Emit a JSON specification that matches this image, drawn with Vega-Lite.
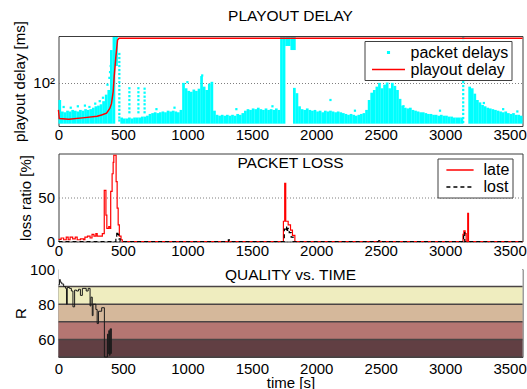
{
  "$schema": "https://vega.github.io/schema/vega-lite/v6.json",
  "padding": {"left": 10.5, "top": 8, "right": 5, "bottom": 5},
  "background": "#ffffff",
  "bounds": "flush",
  "spacing": 27.5,
  "config": {
    "font": "Liberation Sans",
    "view": {"stroke": "#3c3c3c", "strokeWidth": 1},
    "axis": {
      "domain": false, "ticks": false, "grid": false,
      "labelFont": "Liberation Sans", "labelFontSize": 15, "labelColor": "#000000",
      "titleFont": "Liberation Sans", "titleFontSize": 15, "titleFontWeight": "normal", "titleColor": "#000000"
    },
    "title": {"font": "Liberation Sans", "fontSize": 15.5, "fontWeight": "normal", "color": "#000000", "anchor": "middle", "baseline": "alphabetic"}
  },
  "datasets": {
    "cloud": [
      {"t":10,"lo":32,"hi":62},{"t":30,"lo":32,"hi":45},{"t":50,"lo":32,"hi":44},{"t":70,"lo":32,"hi":46},{"t":90,"lo":32,"hi":45},
      {"t":110,"lo":32,"hi":47},{"t":130,"lo":32,"hi":46},{"t":150,"lo":32,"hi":45},{"t":170,"lo":32,"hi":47},{"t":190,"lo":32,"hi":46},
      {"t":210,"lo":32,"hi":48},{"t":230,"lo":32,"hi":47},{"t":250,"lo":32,"hi":48},{"t":270,"lo":32,"hi":50},{"t":290,"lo":32,"hi":52},
      {"t":310,"lo":32,"hi":53},{"t":330,"lo":32,"hi":55},{"t":350,"lo":32,"hi":60},{"t":370,"lo":32,"hi":72},{"t":390,"lo":32,"hi":82},
      {"t":410,"lo":32,"hi":250},{"t":430,"lo":32,"hi":360},{"t":450,"lo":160,"hi":360},
      {"t":490,"lo":32,"hi":38},{"t":510,"lo":32,"hi":37},{"t":530,"lo":32,"hi":37},{"t":550,"lo":32,"hi":38},{"t":570,"lo":32,"hi":37},
      {"t":590,"lo":32,"hi":38},{"t":610,"lo":32,"hi":38},{"t":630,"lo":32,"hi":38},{"t":650,"lo":32,"hi":39},{"t":670,"lo":32,"hi":39},
      {"t":690,"lo":32,"hi":40},{"t":710,"lo":32,"hi":42},{"t":730,"lo":32,"hi":43},{"t":750,"lo":32,"hi":44},{"t":770,"lo":32,"hi":43},
      {"t":790,"lo":32,"hi":44},{"t":810,"lo":32,"hi":45},{"t":830,"lo":32,"hi":44},{"t":850,"lo":32,"hi":46},{"t":870,"lo":32,"hi":45},
      {"t":890,"lo":32,"hi":46},{"t":910,"lo":32,"hi":45},{"t":930,"lo":32,"hi":44},{"t":950,"lo":32,"hi":47},
      {"t":970,"lo":32,"hi":100},{"t":990,"lo":32,"hi":86},{"t":1010,"lo":32,"hi":80},{"t":1030,"lo":32,"hi":78},{"t":1050,"lo":32,"hi":83},
      {"t":1070,"lo":32,"hi":80},{"t":1090,"lo":32,"hi":85},{"t":1110,"lo":32,"hi":121},{"t":1130,"lo":32,"hi":90},{"t":1150,"lo":32,"hi":82},
      {"t":1170,"lo":32,"hi":98},{"t":1190,"lo":32,"hi":103},
      {"t":1210,"lo":32,"hi":46},{"t":1230,"lo":32,"hi":41},{"t":1250,"lo":32,"hi":40},{"t":1270,"lo":32,"hi":41},{"t":1290,"lo":32,"hi":40},
      {"t":1310,"lo":32,"hi":41},{"t":1330,"lo":32,"hi":40},{"t":1350,"lo":32,"hi":41},{"t":1370,"lo":32,"hi":40},{"t":1390,"lo":32,"hi":42},
      {"t":1410,"lo":32,"hi":41},{"t":1430,"lo":32,"hi":43},{"t":1450,"lo":32,"hi":46},{"t":1470,"lo":32,"hi":48},{"t":1490,"lo":32,"hi":47},
      {"t":1510,"lo":32,"hi":49},{"t":1530,"lo":32,"hi":48},{"t":1550,"lo":32,"hi":50},{"t":1570,"lo":32,"hi":48},{"t":1590,"lo":32,"hi":47},
      {"t":1610,"lo":32,"hi":49},{"t":1630,"lo":32,"hi":47},{"t":1650,"lo":32,"hi":48},{"t":1670,"lo":32,"hi":47},{"t":1690,"lo":32,"hi":49},
      {"t":1710,"lo":32,"hi":47},
      {"t":1730,"lo":32,"hi":360},{"t":1750,"lo":32,"hi":360},{"t":1770,"lo":280,"hi":360},{"t":1790,"lo":280,"hi":360},
      {"t":1810,"lo":250,"hi":360},{"t":1830,"lo":250,"hi":360},{"t":1830,"lo":32,"hi":87},{"t":1850,"lo":32,"hi":75},
      {"t":1870,"lo":32,"hi":52},{"t":1890,"lo":32,"hi":48},{"t":1910,"lo":32,"hi":47},{"t":1930,"lo":32,"hi":49},{"t":1950,"lo":32,"hi":47},
      {"t":1970,"lo":32,"hi":46},{"t":1990,"lo":32,"hi":47},{"t":2010,"lo":32,"hi":45},{"t":2030,"lo":32,"hi":46},{"t":2050,"lo":32,"hi":44},
      {"t":2070,"lo":32,"hi":46},{"t":2090,"lo":32,"hi":45},{"t":2110,"lo":32,"hi":46},{"t":2130,"lo":32,"hi":45},{"t":2150,"lo":32,"hi":44},
      {"t":2170,"lo":32,"hi":45},{"t":2190,"lo":32,"hi":44},{"t":2210,"lo":32,"hi":43},{"t":2230,"lo":32,"hi":42},{"t":2250,"lo":32,"hi":41},
      {"t":2270,"lo":32,"hi":42},{"t":2290,"lo":32,"hi":41},{"t":2310,"lo":32,"hi":40},{"t":2330,"lo":32,"hi":41},{"t":2350,"lo":32,"hi":42},
      {"t":2370,"lo":32,"hi":43},{"t":2390,"lo":32,"hi":47},
      {"t":2410,"lo":32,"hi":62},{"t":2430,"lo":32,"hi":76},{"t":2450,"lo":32,"hi":82},{"t":2470,"lo":32,"hi":90},{"t":2490,"lo":32,"hi":100},
      {"t":2510,"lo":32,"hi":86},{"t":2530,"lo":32,"hi":95},{"t":2550,"lo":32,"hi":101},{"t":2570,"lo":32,"hi":86},{"t":2590,"lo":32,"hi":100},
      {"t":2610,"lo":32,"hi":92},{"t":2630,"lo":32,"hi":82},{"t":2650,"lo":32,"hi":64},{"t":2670,"lo":32,"hi":53},{"t":2690,"lo":32,"hi":50},
      {"t":2710,"lo":32,"hi":49},{"t":2730,"lo":32,"hi":50},{"t":2750,"lo":32,"hi":47},{"t":2770,"lo":32,"hi":46},{"t":2790,"lo":32,"hi":45},
      {"t":2810,"lo":32,"hi":44},{"t":2830,"lo":32,"hi":44},{"t":2850,"lo":32,"hi":43},{"t":2870,"lo":32,"hi":42},{"t":2890,"lo":32,"hi":42},
      {"t":2910,"lo":32,"hi":41},{"t":2930,"lo":32,"hi":41},{"t":2950,"lo":32,"hi":40},{"t":2970,"lo":32,"hi":41},{"t":2990,"lo":32,"hi":40},
      {"t":3010,"lo":32,"hi":40},{"t":3030,"lo":32,"hi":39},{"t":3050,"lo":32,"hi":39},{"t":3070,"lo":32,"hi":38},{"t":3090,"lo":32,"hi":38},
      {"t":3110,"lo":32,"hi":38},{"t":3130,"lo":32,"hi":38},
      {"t":3190,"lo":32,"hi":90},{"t":3210,"lo":32,"hi":86},{"t":3230,"lo":32,"hi":74},{"t":3250,"lo":32,"hi":62},{"t":3270,"lo":32,"hi":58},
      {"t":3290,"lo":32,"hi":54},{"t":3310,"lo":32,"hi":52},{"t":3330,"lo":32,"hi":50},{"t":3350,"lo":32,"hi":49},{"t":3370,"lo":32,"hi":48},
      {"t":3390,"lo":32,"hi":47},{"t":3410,"lo":32,"hi":46},{"t":3430,"lo":32,"hi":45},{"t":3450,"lo":32,"hi":44},{"t":3470,"lo":32,"hi":45},
      {"t":3490,"lo":32,"hi":43},{"t":3510,"lo":32,"hi":42},{"t":3530,"lo":32,"hi":43},{"t":3550,"lo":32,"hi":41},{"t":3570,"lo":32,"hi":41},
      {"t":3590,"lo":32,"hi":40}
    ],
    "dots": [
      {"t":40,"v":51},{"t":95,"v":50},{"t":150,"v":52},{"t":205,"v":53},{"t":240,"v":51},{"t":285,"v":56},{"t":320,"v":60},{"t":345,"v":66},
      {"t":380,"v":95},{"t":395,"v":115},{"t":400,"v":135},{"t":405,"v":160},
      {"t":472,"v":224},{"t":472,"v":200},{"t":472,"v":179},{"t":472,"v":160},{"t":472,"v":143},{"t":472,"v":128},{"t":472,"v":114},
      {"t":472,"v":102},{"t":472,"v":91.5},{"t":472,"v":82},{"t":472,"v":73},{"t":472,"v":65},{"t":472,"v":58},{"t":472,"v":52},
      {"t":472,"v":47},{"t":472,"v":42},{"t":472,"v":38},{"t":472,"v":35},
      {"t":550,"v":86},{"t":550,"v":77},{"t":550,"v":69},{"t":550,"v":62},{"t":550,"v":55},{"t":550,"v":49},{"t":550,"v":44},
      {"t":620,"v":86},{"t":620,"v":77},{"t":620,"v":69},{"t":620,"v":62},{"t":620,"v":55},{"t":620,"v":49},{"t":620,"v":44},
      {"t":668,"v":85},{"t":668,"v":76},{"t":668,"v":68},{"t":668,"v":61},{"t":668,"v":55},{"t":668,"v":49},{"t":668,"v":44},
      {"t":760,"v":48},{"t":900,"v":50},{"t":1000,"v":102},{"t":1115,"v":123},{"t":1380,"v":48},{"t":1660,"v":52},
      {"t":2110,"v":62},{"t":2300,"v":46},{"t":2677,"v":52},{"t":2960,"v":46},{"t":3300,"v":57},{"t":3450,"v":48},{"t":3560,"v":45},
      {"t":3140,"v":349},{"t":3140,"v":313},{"t":3140,"v":280},{"t":3140,"v":250},{"t":3140,"v":224},{"t":3140,"v":200},{"t":3140,"v":179},
      {"t":3140,"v":160},{"t":3140,"v":143},{"t":3140,"v":128},{"t":3140,"v":114},{"t":3140,"v":102},{"t":3140,"v":91.5},{"t":3140,"v":82},
      {"t":3140,"v":73},{"t":3140,"v":65},{"t":3140,"v":58},{"t":3140,"v":52},{"t":3140,"v":47},{"t":3140,"v":42},{"t":3140,"v":37.5},{"t":3140,"v":33.5}
    ],
    "playout": [
      {"t":0,"v":47},{"t":6,"v":37},{"t":80,"v":36.2},{"t":204,"v":37.9},{"t":300,"v":39.5},{"t":334,"v":40.8},{"t":373,"v":43},
      {"t":398,"v":49},{"t":411,"v":56},{"t":424,"v":78},{"t":432,"v":119},{"t":445,"v":207},{"t":458,"v":330},{"t":470,"v":347},
      {"t":3600,"v":347}
    ],
    "loss": [
      {"t":0,"v":2.5,"s":"late"},{"t":20,"v":4,"s":"late"},{"t":40,"v":2,"s":"late"},{"t":60,"v":5,"s":"late"},{"t":75,"v":2,"s":"late"},
      {"t":90,"v":5,"s":"late"},{"t":110,"v":3,"s":"late"},{"t":130,"v":5,"s":"late"},{"t":145,"v":2,"s":"late"},{"t":170,"v":3,"s":"late"},
      {"t":195,"v":2,"s":"late"},{"t":205,"v":5,"s":"late"},{"t":225,"v":6,"s":"late"},{"t":245,"v":4,"s":"late"},{"t":260,"v":8,"s":"late"},
      {"t":275,"v":6,"s":"late"},{"t":290,"v":9,"s":"late"},{"t":300,"v":6,"s":"late"},{"t":340,"v":9,"s":"late"},{"t":355,"v":58,"s":"late"},
      {"t":368,"v":30,"s":"late"},{"t":375,"v":15,"s":"late"},{"t":390,"v":17,"s":"late"},{"t":400,"v":15,"s":"late"},{"t":405,"v":57,"s":"late"},
      {"t":416,"v":77,"s":"late"},{"t":424,"v":90,"s":"late"},{"t":429,"v":98,"s":"late"},{"t":447,"v":68,"s":"late"},{"t":455,"v":38,"s":"late"},
      {"t":463,"v":19,"s":"late"},{"t":472,"v":6,"s":"late"},{"t":485,"v":2,"s":"late"},{"t":495,"v":0,"s":"late"},
      {"t":1745,"v":23,"s":"late"},{"t":1755,"v":66,"s":"late"},{"t":1763,"v":23,"s":"late"},{"t":1782,"v":19,"s":"late"},
      {"t":1800,"v":13,"s":"late"},{"t":1815,"v":7,"s":"late"},{"t":1834,"v":0,"s":"late"},
      {"t":3138,"v":8,"s":"late"},{"t":3145,"v":12,"s":"late"},{"t":3155,"v":9,"s":"late"},{"t":3163,"v":0,"s":"late"},
      {"t":3175,"v":32,"s":"late"},{"t":3181,"v":0,"s":"late"},{"t":3600,"v":0,"s":"late"},
      {"t":0,"v":0,"s":"lost"},{"t":445,"v":4,"s":"lost"},{"t":452,"v":11,"s":"lost"},{"t":460,"v":8,"s":"lost"},{"t":468,"v":3,"s":"lost"},
      {"t":478,"v":0,"s":"lost"},{"t":1318,"v":2,"s":"lost"},{"t":1326,"v":0,"s":"lost"},{"t":1752,"v":14,"s":"lost"},{"t":1762,"v":17,"s":"lost"},
      {"t":1770,"v":11,"s":"lost"},{"t":1778,"v":15,"s":"lost"},{"t":1790,"v":10,"s":"lost"},{"t":1805,"v":5,"s":"lost"},{"t":1820,"v":0,"s":"lost"},
      {"t":2485,"v":1,"s":"lost"},{"t":2492,"v":0,"s":"lost"},{"t":3143,"v":10,"s":"lost"},{"t":3152,"v":0,"s":"lost"},{"t":3600,"v":0,"s":"lost"}
    ],
    "bands": [
      {"lo":90,"hi":100,"q":"best"},{"lo":80,"hi":90,"q":"high"},{"lo":70,"hi":80,"q":"medium"},{"lo":60,"hi":70,"q":"low"},{"lo":50,"hi":60,"q":"poor"}
    ],
    "rvalue": [
      {"t":0,"r":91},{"t":8,"r":94},{"t":14,"r":92.5},{"t":25,"r":91.5},{"t":40,"r":90},{"t":55,"r":89},{"t":62,"r":80},{"t":68,"r":89.5},
      {"t":85,"r":89},{"t":100,"r":87.5},{"t":112,"r":78.5},{"t":125,"r":88},{"t":140,"r":87.5},{"t":155,"r":88.5},{"t":170,"r":85},
      {"t":185,"r":89},{"t":215,"r":87.5},{"t":230,"r":89},{"t":245,"r":79},{"t":252,"r":84},{"t":262,"r":73.5},{"t":268,"r":80},
      {"t":290,"r":77},{"t":300,"r":69},{"t":310,"r":76},{"t":335,"r":78},{"t":356,"r":50},{"t":380,"r":63},{"t":385,"r":52},
      {"t":390,"r":65},{"t":395,"r":51},{"t":400,"r":66},{"t":405,"r":52},{"t":410,"r":66},{"t":414,"r":66}
    ]
  },
  "vconcat": [
    {
      "width": 464, "height": 90,
      "title": {"text": "PLAYOUT DELAY", "offset": -4},
      "layer": [
        {
          "data": {"name": "cloud"},
          "mark": {"type": "rule", "color": "#00ffff", "strokeWidth": 2.7},
          "encoding": {
            "x": {"field": "t", "type": "quantitative", "scale": {"domain": [0, 3600], "nice": false},
                  "axis": {"values": [0,500,1000,1500,2000,2500,3000,3500], "format": "d", "title": null, "labelFlush": false, "labelBaseline": "alphabetic", "labelPadding": 13}},
            "y": {"field": "lo", "type": "quantitative", "scale": {"type": "log", "domain": [30, 370], "nice": false},
                  "axis": {"values": [100], "labelExpr": "'10²'", "grid": true, "gridDash": [1, 2], "gridColor": "#7f7f7f", "labelPadding": 4,
                           "title": "playout delay [ms]", "titleAngle": 270, "titleBaseline": "alphabetic", "titleAlign": "center", "titleX": -34.5, "titleY": 45}},
            "y2": {"field": "hi"}
          }
        },
        {
          "data": {"name": "dots"},
          "mark": {"type": "square", "size": 5, "opacity": 1},
          "encoding": {
            "x": {"field": "t", "type": "quantitative"},
            "y": {"field": "v", "type": "quantitative"},
            "color": {"datum": "packet delays", "type": "nominal",
              "scale": {"domain": ["packet delays", "playout delay"], "range": ["#00ffff", "#ff0000"]},
              "legend": {"orient": "none", "legendX": 306, "legendY": 5, "title": null, "padding": 2.5, "rowPadding": 0,
                "symbolType": "M-2.06,0H2.06", "symbolSize": 256, "symbolStrokeWidth": 1.5, "symbolOffset": 12.5,
                "labelOffset": 13, "labelFontSize": 16, "labelColor": "#000000", "labelExpr": "datum.label + '  '",
                "strokeColor": "#404040", "fillColor": "#ffffff",
                "encode": {"symbols": {"update": {
                  "shape": {"signal": "datum.value === 'packet delays' ? 'M-0.1,-0.1H0.1V0.1H-0.1Z' : 'M-2.06,0H2.06'"},
                  "fill": {"signal": "datum.value === 'packet delays' ? '#00ffff' : 'transparent'"},
                  "stroke": {"signal": "datum.value === 'packet delays' ? '#00ffff' : '#ff0000'"}
                }}}}
            }
          }
        },
        {
          "data": {"name": "playout"},
          "mark": {"type": "line", "strokeWidth": 1.5},
          "encoding": {
            "x": {"field": "t", "type": "quantitative"},
            "y": {"field": "v", "type": "quantitative"},
            "color": {"datum": "playout delay", "type": "nominal",
              "scale": {"domain": ["packet delays", "playout delay"], "range": ["#00ffff", "#ff0000"]},
              "legend": {"orient": "none", "legendX": 306, "legendY": 5, "title": null, "padding": 2.5, "rowPadding": 0,
                "symbolType": "M-2.06,0H2.06", "symbolSize": 256, "symbolStrokeWidth": 1.5, "symbolOffset": 12.5,
                "labelOffset": 13, "labelFontSize": 16, "labelColor": "#000000", "labelExpr": "datum.label + '  '",
                "strokeColor": "#404040", "fillColor": "#ffffff",
                "encode": {"symbols": {"update": {
                  "shape": {"signal": "datum.value === 'packet delays' ? 'M-0.1,-0.1H0.1V0.1H-0.1Z' : 'M-2.06,0H2.06'"},
                  "fill": {"signal": "datum.value === 'packet delays' ? '#00ffff' : 'transparent'"},
                  "stroke": {"signal": "datum.value === 'packet delays' ? '#00ffff' : '#ff0000'"}
                }}}}
            }
          }
        }
      ]
    },
    {
      "width": 464, "height": 88,
      "title": {"text": "PACKET LOSS", "offset": -18.5},
      "data": {"name": "loss"},
      "mark": {"type": "line", "interpolate": "step-after", "strokeWidth": 1.2},
      "encoding": {
        "x": {"field": "t", "type": "quantitative", "scale": {"domain": [0, 3600], "nice": false},
              "axis": {"values": [0,500,1000,1500,2000,2500,3000,3500], "format": "d", "title": null, "labelFlush": false, "labelBaseline": "alphabetic", "labelPadding": 13.5}},
        "y": {"field": "v", "type": "quantitative", "scale": {"domain": [0, 100], "nice": false},
              "axis": {"values": [0, 50], "grid": true, "gridDash": [1, 2], "gridColor": "#7f7f7f", "labelPadding": 4,
                       "title": "loss ratio [%]", "titleAngle": 270, "titleBaseline": "alphabetic", "titleAlign": "center", "titleX": -28, "titleY": 44}},
        "color": {"field": "s", "type": "nominal", "scale": {"domain": ["late", "lost"], "range": ["#ff0000", "#000000"]},
          "legend": {"orient": "none", "legendX": 379, "legendY": 5, "title": null, "padding": 2.5, "rowPadding": 0,
            "symbolType": "M-1.7,0H1.7", "symbolSize": 256, "symbolStrokeWidth": 1.5, "symbolOffset": 11,
            "labelOffset": 14.5, "labelFontSize": 16, "labelColor": "#000000", "labelExpr": "datum.label + '  '",
            "strokeColor": "#404040", "fillColor": "#ffffff"}},
        "strokeDash": {"field": "s", "type": "nominal", "scale": {"domain": ["late", "lost"], "range": [[1, 0], [4, 3]]},
          "legend": {"orient": "none", "legendX": 379, "legendY": 5, "title": null, "padding": 2.5, "rowPadding": 0,
            "symbolType": "M-1.7,0H1.7", "symbolSize": 256, "symbolStrokeWidth": 1.5, "symbolOffset": 11,
            "labelOffset": 14.5, "labelFontSize": 16, "labelColor": "#000000", "labelExpr": "datum.label + '  '",
            "strokeColor": "#404040", "fillColor": "#ffffff"}}
      }
    },
    {
      "width": 464, "height": 88,
      "title": {"text": "QUALITY vs. TIME", "offset": -21},
      "layer": [
        {
          "data": {"name": "bands"},
          "mark": {"type": "rect"},
          "encoding": {
            "y": {"field": "lo", "type": "quantitative", "scale": {"domain": [50, 100], "nice": false, "zero": false},
                  "axis": {"values": [60, 80, 100], "labelPadding": 4, "title": "R", "titleAngle": 270, "titleBaseline": "alphabetic",
                           "titleAlign": "center", "titleX": -33, "titleY": 44}},
            "y2": {"field": "hi"},
            "color": {"field": "q", "type": "nominal", "legend": null,
              "scale": {"domain": ["best", "high", "medium", "low", "poor"], "range": ["#ffffff", "#efedbf", "#d5b89b", "#b57672", "#613f43"]}}
          }
        },
        {
          "data": {"name": "bands"},
          "mark": {"type": "rule", "color": "#4a4444", "strokeWidth": 1.5},
          "encoding": {"y": {"field": "lo", "type": "quantitative"}}
        },
        {
          "data": {"name": "rvalue"},
          "mark": {"type": "line", "interpolate": "step-after", "color": "#1a1a1a", "strokeWidth": 1},
          "encoding": {
            "x": {"field": "t", "type": "quantitative", "scale": {"domain": [0, 3600], "nice": false},
                  "axis": {"values": [0,500,1000,1500,2000,2500,3000,3500], "format": "d", "title": "time [s]", "labelFlush": false, "labelBaseline": "alphabetic",
                           "labelPadding": 16.5, "titleBaseline": "alphabetic", "titleY": 30, "titleX": 232, "titleAlign": "center"}},
            "y": {"field": "r", "type": "quantitative"}
          }
        }
      ]
    }
  ],
  "resolve": {
    "scale": {"x": "independent", "y": "independent", "color": "independent", "strokeDash": "independent"},
    "legend": {"color": "independent", "strokeDash": "independent"}
  }
}
